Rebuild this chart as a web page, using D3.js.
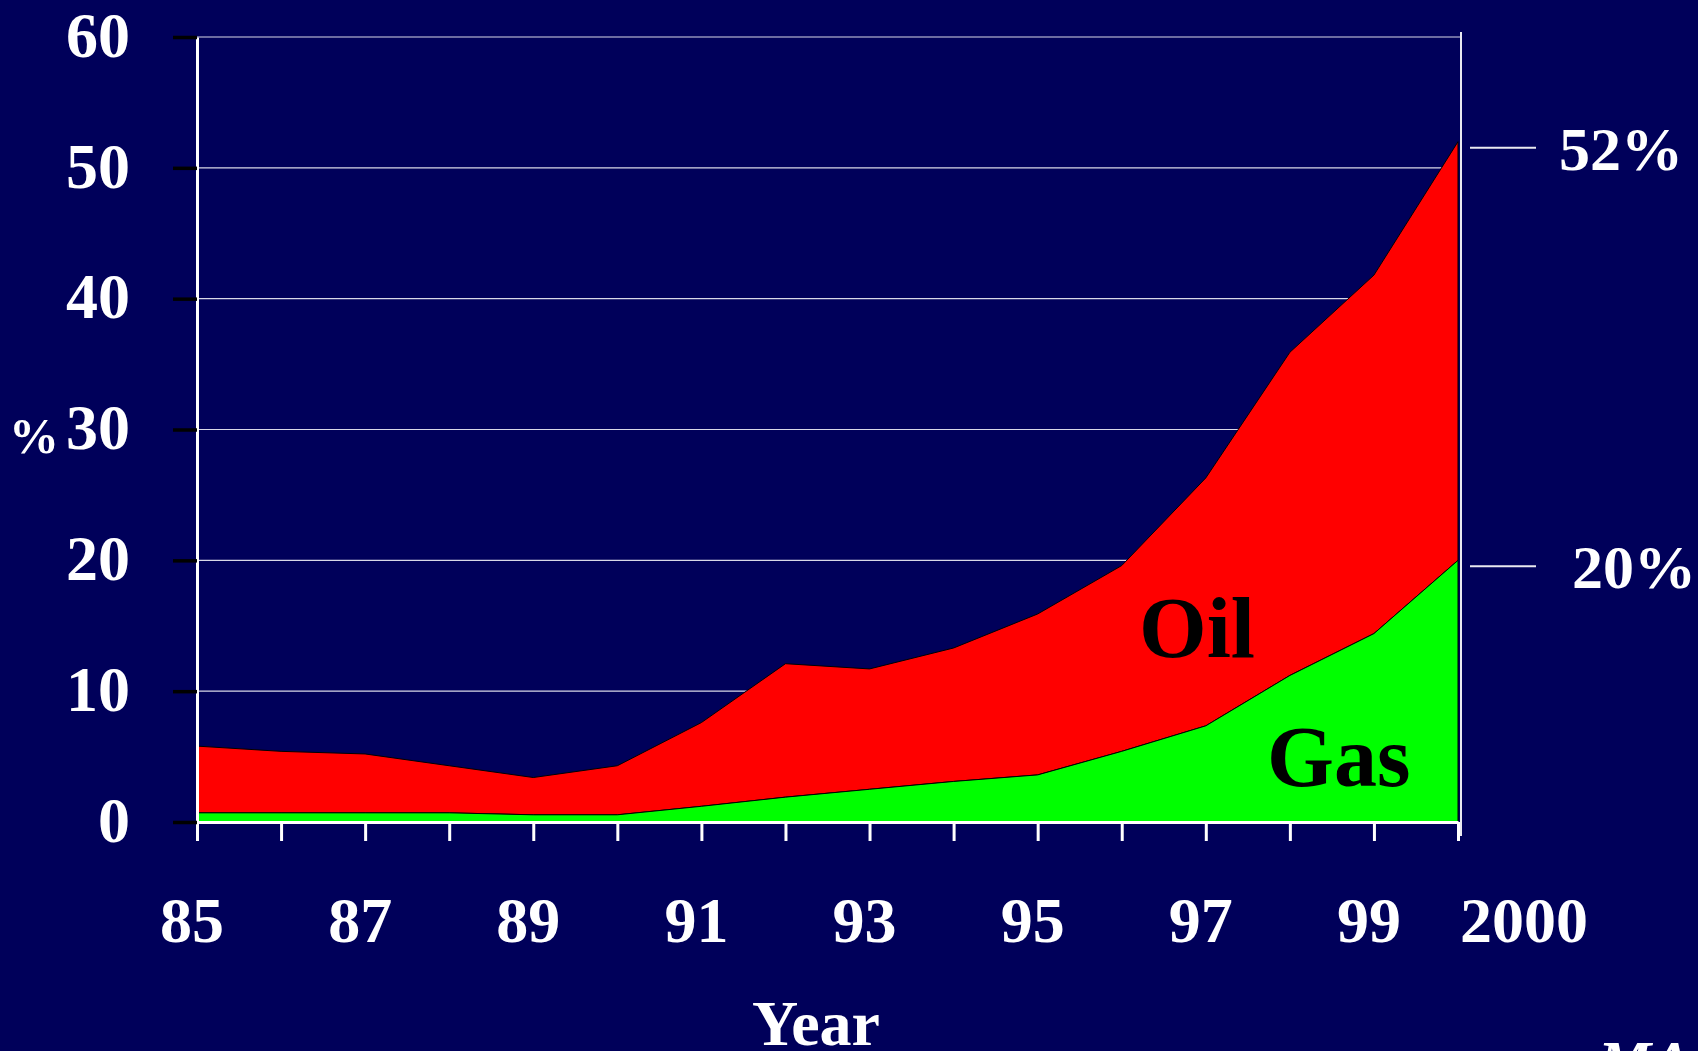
<!DOCTYPE html>
<html>
<head>
<meta charset="utf-8">
<script src="https://cdn.jsdelivr.net/npm/d3@7"></script>
<style>
  html, body { margin: 0; padding: 0; background: #00005a; overflow: hidden; }
  svg { display: block; }
  text { font-family: "Liberation Serif", "Times New Roman", serif; font-weight: bold; }
</style>
</head>
<body>
<script>
'use strict';

// years on the x axis
const years = [1985, 1986, 1987, 1988, 1989, 1990, 1991, 1992, 1993, 1994, 1995, 1996, 1997, 1998, 1999, 2000];
// gas share (%)
const gasValues = [0.7, 0.7, 0.7, 0.7, 0.55, 0.55, 1.2, 1.9, 2.5, 3.1, 3.6, 5.4, 7.35, 11.2, 14.4, 20];
// oil share (%), stacked above gas
const oilValues = [5.1, 4.7, 4.5, 3.6, 2.85, 3.75, 6.4, 10.2, 9.2, 10.2, 12.3, 14.2, 18.95, 24.7, 27.4, 32];
// labelled years and their text
const xLabelYears = [1985, 1987, 1989, 1991, 1993, 1995, 1997, 1999, 2000];
const xLabelText = ['85', '87', '89', '91', '93', '95', '97', '99', '2000'];
const yTicks = [0, 10, 20, 30, 40, 50, 60];
// end values marked on the right
const endMarks = [52, 20];
const endMarkText = ['52%', '20%'];

(function() {
  let svgContainer = "";

  window.onload = function() {
    svgContainer = d3.select('body')
      .append('svg')
      .attr('width', 1698)
      .attr('height', 1051);

    svgContainer.append('rect')
      .attr('width', 1698)
      .attr('height', 1051)
      .attr('fill', '#00005a');

    let data = years.map((y, i) => ({ year: y, gas: gasValues[i], oil: oilValues[i] }));
    let map = drawAxes();
    plotData(data, map);
    makeLabels(map);
  }

  // axes, ticks and grid
  function drawAxes() {
    let xScale = d3.scaleLinear()
      .domain([1985, 2000])
      .range([197, 1458]);

    let yScale = d3.scaleLinear()
      .domain([0, 60])
      .range([822, 37]);

    // grid lines behind the areas
    svgContainer.append('g')
      .selectAll('line')
      .data(yTicks.filter((d) => d > 0))
      .enter()
      .append('line')
        .attr('x1', 197)
        .attr('x2', (d) => d == 60 ? 1461 : 1458)
        .attr('y1', (d) => yScale(d))
        .attr('y2', (d) => yScale(d))
        .attr('stroke', '#d8d8e8')
        .attr('stroke-width', 1.2);

    return { x: xScale, y: yScale };
  }

  // stacked areas for gas and oil
  function plotData(data, map) {
    let stack = d3.stack().keys(['gas', 'oil']);
    let series = stack(data);
    let colors = { gas: '#00ff00', oil: '#ff0000' };

    let area = d3.area()
      .x((d) => map.x(d.data.year))
      .y0((d) => map.y(d[0]))
      .y1((d) => map.y(d[1]));

    // draw oil first so gas sits on top
    svgContainer.selectAll('.area')
      .data(series.slice().reverse())
      .enter()
      .append('path')
        .attr('class', 'area')
        .attr('d', area)
        .attr('fill', (d) => colors[d.key])
        .attr('stroke', '#000')
        .attr('stroke-width', 1);

    // right hand frame line
    svgContainer.append('line')
      .attr('x1', 1461).attr('x2', 1461)
      .attr('y1', map.y(60) - 5).attr('y2', 836)
      .attr('stroke', '#e8e8f0')
      .attr('stroke-width', 2);

    // x axis with white ticks
    let xAxis = d3.axisBottom(map.x)
      .tickValues(years)
      .tickSize(19)
      .tickSizeOuter(0)
      .tickFormat('');
    let gx = svgContainer.append('g')
      .attr('transform', 'translate(0, 822)')
      .call(xAxis);
    gx.select('.domain').attr('stroke', '#fff').attr('stroke-width', 3);
    gx.selectAll('.tick line').attr('stroke', '#fff').attr('stroke-width', 3);

    // y axis with black ticks
    let yAxis = d3.axisLeft(map.y)
      .tickValues(yTicks)
      .tickSize(24)
      .tickSizeOuter(0)
      .tickPadding(43);
    let gy = svgContainer.append('g')
      .attr('transform', 'translate(197, 0)')
      .call(yAxis);
    gy.select('.domain').attr('stroke', '#fff').attr('stroke-width', 3);
    gy.selectAll('.tick line').attr('stroke', '#000').attr('stroke-width', 3.5);
    gy.selectAll('.tick text')
      .attr('fill', '#fff')
      .attr('dy', '0.3em')
      .style('font-family', '"Liberation Serif", "Times New Roman", serif')
      .style('font-weight', 'bold')
      .style('font-size', '64px');
  }

  // tick labels, titles and annotations
  function makeLabels(map) {
    svgContainer.append('g')
      .selectAll('text')
      .data(xLabelYears)
      .enter()
      .append('text')
        .attr('x', (d) => d == 2000 ? map.x(d) + 2 : map.x(d) - 5)
        .attr('y', 942)
        .attr('text-anchor', (d) => d == 2000 ? 'start' : 'middle')
        .attr('fill', '#fff')
        .style('font-size', '64px')
        .text((d, i) => xLabelText[i]);

    svgContainer.append('text')
      .attr('x', 816)
      .attr('y', 1045)
      .attr('text-anchor', 'middle')
      .attr('fill', '#fff')
      .style('font-size', '64px')
      .text('Year');

    svgContainer.append('text')
      .attr('x', 9)
      .attr('y', map.y(30) + 23)
      .attr('fill', '#fff')
      .style('font-size', '50px')
      .text('%');

    // series names inside the areas
    svgContainer.append('text')
      .attr('x', 1139)
      .attr('y', 657)
      .attr('fill', '#000')
      .style('font-size', '87px')
      .text('Oil');

    svgContainer.append('text')
      .attr('x', 1267)
      .attr('y', 786)
      .attr('fill', '#000')
      .style('font-size', '86px')
      .text('Gas');

    // end value markers
    let marks = svgContainer.append('g');
    marks.selectAll('line')
      .data(endMarks)
      .enter()
      .append('line')
        .attr('x1', 1470).attr('x2', 1536)
        .attr('y1', (d) => map.y(d) + 6)
        .attr('y2', (d) => map.y(d) + 6)
        .attr('stroke', '#e8e8f0')
        .attr('stroke-width', 2);
    marks.selectAll('text')
      .data(endMarks)
      .enter()
      .append('text')
        .attr('x', (d, i) => i == 0 ? 1559 : 1572)
        .attr('y', (d) => map.y(d) + 28)
        .attr('fill', '#fff')
        .style('font-size', '62px')
        .text((d, i) => endMarkText[i]);

    // logo peeking in at the bottom corner
    svgContainer.append('text')
      .attr('x', 1598)
      .attr('y', 1082)
      .attr('fill', '#fff')
      .style('font-size', '60px')
      .style('font-style', 'italic')
      .text('MA');
  }
})();
</script>
</body>
</html>
